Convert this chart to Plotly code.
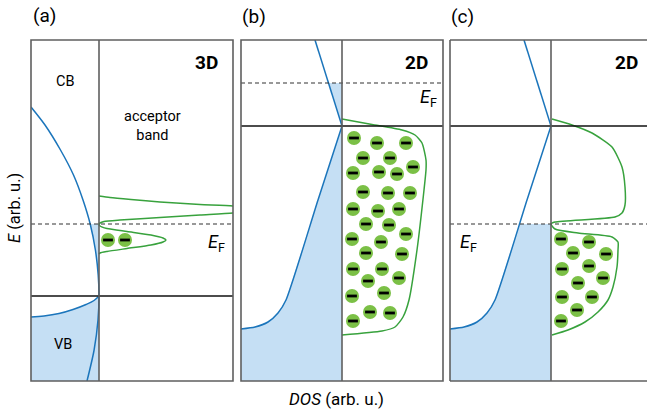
import numpy as np
import plotly.graph_objects as go

W, H = 647, 411

# ---------------- data (arb. units: x = DOS, y = E relative to band edge) ----------------
# panel (a) 3D
a_cb_x = [-6.8, -5.4, -3.85, -2.55, -1.6, -0.88, -0.36, -0.08, 0.0, -0.1, -0.49, -1.2]
a_cb_y = [18.9, 17.1, 14.6, 12.1, 9.6, 7.2, 4.6, 2.1, 0.0, -2.4, -5.4, -8.5]
a_vb_x = [-6.8, -5.5, -4.0, -2.6, -1.3, -0.5, 0.0]
a_vb_y = [-2.1, -2.0, -1.75, -1.35, -0.85, -0.45, 0.0]
a_acc_x = [0.0, 1.1, 3.2, 6.1, 10.1, 13.4, 16.0, 13.4, 10.1, 6.1, 2.1, 0.5, 0.1, 0.0,
           0.1, 0.8, 2.8, 5.2, 6.4, 6.7, 6.4, 5.2, 2.8, 0.8, 0.1, 0.0]
a_acc_y = [10.0, 9.85, 9.65, 9.4, 9.15, 9.0, 8.65, 8.3, 8.1, 7.85, 7.6, 7.45, 7.3, 7.2,
           7.0, 6.75, 6.45, 6.1, 5.8, 5.6, 5.4, 5.1, 4.75, 4.45, 4.3, 4.2]
a_el_x = [0.9, 2.6]
a_el_y = [5.6, 5.6]
a_EF = 7.2

# panels (b), (c) 2D host DOS
d2_up_x = [-2.7, 0.0]
d2_up_y = [8.6, 0.0]
d2_lo_x = [0.0, -2.4, -5.6, -6.4, -7.4, -8.7, -10.1]
d2_lo_y = [0.0, -7.4, -17.4, -18.7, -19.6, -20.1, -20.3]

# panel (b)
b_acc_x = [0.0, 3.0, 6.0, 7.3, 8.0, 8.4, 8.4, 8.2, 7.5, 6.7, 6.1, 5.3, 4.0, 0.0]
b_acc_y = [0.7, 0.15, -0.4, -0.9, -1.7, -3.4, -4.4, -6.4, -12.4, -17.4, -19.1, -20.1, -20.5, -20.9]
b_el_px = [(354, 138), (377, 143), (406, 143), (363, 158), (390, 158), (353, 173), (379, 172),
           (397, 174), (413, 167), (363, 192), (388, 193), (410, 193), (353, 209), (378, 211),
           (399, 209), (366, 224), (389, 225), (352, 239), (381, 242), (406, 234), (366, 253),
           (402, 254), (353, 269), (382, 269), (368, 281), (399, 278), (352, 296), (384, 293),
           (370, 312), (390, 313), (353, 321)]
b_el_x = [(p[0] - 342) / 10 for p in b_el_px]
b_el_y = [(126 - p[1]) / 10 for p in b_el_px]
b_EF = 4.3

# panel (c)
c_acc_x = [0.1, 2.1, 4.1, 6.1, 7.1, 7.4, 7.4, 7.1, 6.4, 0.4, 0.0, 0.4, 2.7, 6.1, 6.7, 6.7,
           6.6, 6.2, 5.7, 4.7, 3.4, 1.7, 0.1]
c_acc_y = [0.7, 0.1, -0.7, -2.1, -4.1, -6.1, -7.9, -8.7, -9.1, -9.6, -9.8, -10.3, -10.7, -11.1,
           -11.6, -12.4, -14.1, -16.1, -17.4, -18.6, -19.6, -20.4, -20.9]
c_el_px = [(561, 239), (589, 242), (573, 253), (606, 254), (562, 269), (589, 266), (578, 283),
           (603, 278), (562, 297), (592, 297), (577, 310), (561, 321)]
c_el_x = [(p[0] - 551) / 10 for p in c_el_px]
c_el_y = [(126 - p[1]) / 10 for p in c_el_px]
c_EF = -9.8

# ---------------- styling ----------------
BLUE = "#1b75bb"
FILL = "#c5dff4"
GREEN = "#38a23d"
ELEC = "#7bc046"
FRAME = "#5f5f5f"
FONT = "Roboto"

fig = go.Figure()

xr = {"a": [-6.8, 13.4], "b": [-10.1, 10.1], "c": [-10.1, 9.6]}
yr = {"a": [-8.5, 25.6], "b": [-25.5, 8.6], "c": [-25.5, 8.6]}
xd = {"a": [31 / W, 233 / W], "b": [241 / W, 443 / W], "c": [450 / W, 1.0]}
yd = [1 - 381 / H, 1 - 40 / H]
ax = {"a": ("x", "y"), "b": ("x2", "y2"), "c": ("x3", "y3")}


def add(p, **kw):
    fig.add_trace(go.Scatter(xaxis=ax[p][0], yaxis=ax[p][1], showlegend=False,
                             hoverinfo="skip", **kw))


def fill_poly(p, xs, ys):
    add(p, x=xs, y=ys, mode="lines", fill="toself", fillcolor=FILL, line=dict(width=0))


def host_fill(p, ef, ybot):
    # region right of the 2D host DOS curve, left of the divider, below EF
    cx = list(d2_up_x) + list(d2_lo_x[1:])
    cy = list(d2_up_y) + list(d2_lo_y[1:])
    order = np.argsort(cy)
    xi = float(np.interp(ef, np.array(cy)[order], np.array(cx)[order]))
    px = [xi] + [x for x, y in zip(cx, cy) if y < ef]
    py = [ef] + [y for y in cy if y < ef]
    px += [px[-1], 0, 0]
    py += [ybot, ybot, ef]
    fill_poly(p, px, py)


# --- fills
fill_poly("a", a_vb_x + [0, a_vb_x[0]], a_vb_y + [yr["a"][0], yr["a"][0]])
cb_sel = [(x, y) for x, y in zip(a_cb_x, a_cb_y) if 0 <= y <= a_EF]
fill_poly("a", [c[0] for c in cb_sel] + [0], [c[1] for c in cb_sel] + [a_EF])
host_fill("b", b_EF, yr["b"][0])
host_fill("c", c_EF, yr["c"][0])

# --- blue host DOS lines
add("a", x=a_cb_x, y=a_cb_y, mode="lines",
    line=dict(color=BLUE, width=1.5, shape="spline", smoothing=0.8))
add("a", x=a_vb_x, y=a_vb_y, mode="lines", line=dict(color=BLUE, width=1.5, shape="spline"))
for p in ("b", "c"):
    add(p, x=d2_up_x, y=d2_up_y, mode="lines", line=dict(color=BLUE, width=1.5))
    add(p, x=d2_lo_x, y=d2_lo_y, mode="lines",
        line=dict(color=BLUE, width=1.5, shape="spline", smoothing=0.6))

# --- green acceptor DOS
add("a", x=a_acc_x, y=a_acc_y, mode="lines",
    line=dict(color=GREEN, width=1.5, shape="spline", smoothing=0.6))
add("b", x=b_acc_x, y=b_acc_y, mode="lines",
    line=dict(color=GREEN, width=1.5, shape="spline", smoothing=0.6))
add("c", x=c_acc_x, y=c_acc_y, mode="lines",
    line=dict(color=GREEN, width=1.5, shape="spline", smoothing=0.6))

# --- electrons
for p, ex, ey in (("a", a_el_x, a_el_y), ("b", b_el_x, b_el_y), ("c", c_el_x, c_el_y)):
    add(p, x=ex, y=ey, mode="markers", marker=dict(color=ELEC, size=14, line=dict(width=0)))
    add(p, x=ex, y=ey, mode="markers",
        marker=dict(symbol="line-ew", size=7, line=dict(color="black", width=2.8)))

# --- axes
for i, p in enumerate(("a", "b", "c")):
    s = "" if i == 0 else str(i + 1)
    fig.update_layout(**{
        "xaxis" + s: dict(domain=xd[p], range=xr[p], visible=False, anchor="y" + s,
                          fixedrange=True),
        "yaxis" + s: dict(domain=yd, range=yr[p], visible=False, anchor="x" + s,
                          fixedrange=True),
    })

# --- lines (band edge, EF, divider, frame)
EF = {"a": a_EF, "b": b_EF, "c": c_EF}
for i, p in enumerate(("a", "b", "c")):
    s = "" if i == 0 else str(i + 1)
    xdom, ydom = "x" + s + " domain", "y" + s + " domain"
    xref, yref = "x" + s, "y" + s
    fig.add_shape(type="line", xref=xdom, yref=yref, x0=0, x1=1, y0=0, y1=0,
                  line=dict(color="#111111", width=1.3))
    fig.add_shape(type="line", xref=xdom, yref=yref, x0=0, x1=1, y0=EF[p], y1=EF[p],
                  line=dict(color="#333333", width=1.2, dash="4px,3px"))
    fig.add_shape(type="line", xref=xref, yref=ydom, x0=0, x1=0, y0=0, y1=1,
                  line=dict(color=FRAME, width=1.6))
    if p == "c":
        for (x0, y0, x1, y1) in ((0, 0, 1, 0), (0, 1, 1, 1), (0, 0, 0, 1)):
            fig.add_shape(type="line", xref=xdom, yref=ydom, x0=x0, y0=y0, x1=x1, y1=y1,
                          line=dict(color=FRAME, width=1.6))
    else:
        fig.add_shape(type="rect", xref=xdom, yref=ydom, x0=0, y0=0, x1=1, y1=1,
                      line=dict(color=FRAME, width=1.6))

# --- text
def txt(x, y, t, size=13, xanchor="center", yanchor="middle", angle=0):
    fig.add_annotation(x=x / W, y=1 - y / H, xref="paper", yref="paper", text=t,
                       showarrow=False, xanchor=xanchor, yanchor=yanchor, textangle=angle,
                       font=dict(family=FONT, size=size, color="black"))

txt(31, 16, "(a)", 19, xanchor="left")
txt(240, 17, "(b)", 19, xanchor="left")
txt(449, 17, "(c)", 19, xanchor="left")
txt(220, 62, "<b>3D</b>", 19, xanchor="right")
txt(430, 62, "<b>2D</b>", 19, xanchor="right")
txt(640, 62, "<b>2D</b>", 19, xanchor="right")
txt(65, 82, "CB", 14.5)
txt(152, 126, "acceptor<br>band", 14.5)
txt(63, 344, "VB", 14.5)
txt(206, 243, "<i>E</i><sub>F</sub>", 18, xanchor="left")
txt(418, 98, "<i>E</i><sub>F</sub>", 18, xanchor="left")
txt(458, 243, "<i>E</i><sub>F</sub>", 18, xanchor="left")
txt(14, 208, "<i>E</i> (arb. u.)", 16.5, angle=-90)
txt(337, 399, "<i>DOS</i> (arb. u.)", 17)

fig.update_layout(width=W, height=H, margin=dict(l=0, r=0, t=0, b=0),
                  paper_bgcolor="white", plot_bgcolor="white",
                  font=dict(family=FONT))

fig.write_html("out.html", config={"displayModeBar": False},
               post_script="document.body.style.margin='0';document.body.style.padding='0';")
